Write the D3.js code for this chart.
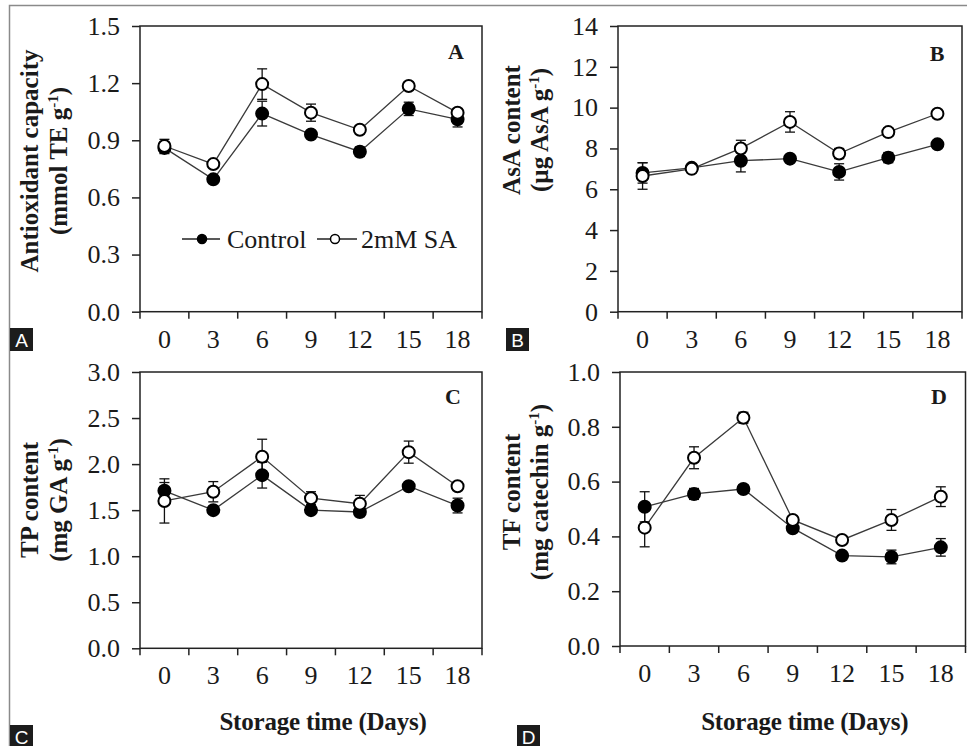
<!DOCTYPE html>
<html>
<head>
<meta charset="utf-8">
<script src="https://cdn.jsdelivr.net/npm/d3@7/dist/d3.min.js"></script>
<style>
  html, body { margin: 0; padding: 0; background: #fff; }
  svg { display: block; }
  text { font-family: "Liberation Serif", "Times New Roman", serif; fill: #1a1a1a; }
</style>
</head>
<body>
<svg id="chart" width="967" height="746"></svg>
<script>
// ---------- data ----------
const days = ["0", "3", "6", "9", "12", "15", "18"];
const seriesNames = ["Control", "2mM SA"];

// Panel A: Antioxidant capacity
const aControl    = [0.86, 0.695, 1.04, 0.93, 0.84, 1.065, 1.01];
const aControlErr = [0.03, 0.015, 0.065, 0.015, 0.025, 0.035, 0.04];
const aSA         = [0.87, 0.775, 1.195, 1.045, 0.955, 1.185, 1.045];
const aSAErr      = [0.035, 0.015, 0.08, 0.045, 0.015, 0.02, 0.02];
const aTicks      = [0, 0.3, 0.6, 0.9, 1.2, 1.5];

// Panel B: AsA content
const bControl    = [6.8, 7.05, 7.4, 7.5, 6.85, 7.55, 8.2];
const bControlErr = [0.5, 0.15, 0.55, 0.15, 0.4, 0.25, 0.15];
const bSA         = [6.65, 7.0, 8.0, 9.3, 7.75, 8.8, 9.7];
const bSAErr      = [0.65, 0.15, 0.4, 0.5, 0.25, 0.2, 0.15];
const bTicks      = [0, 2, 4, 6, 8, 10, 12, 14];

// Panel C: TP content
const cControl    = [1.71, 1.5, 1.88, 1.5, 1.48, 1.76, 1.55];
const cControlErr = [0.09, 0.03, 0.14, 0.03, 0.05, 0.03, 0.08];
const cSA         = [1.6, 1.7, 2.08, 1.63, 1.57, 2.13, 1.76];
const cSAErr      = [0.24, 0.11, 0.19, 0.07, 0.09, 0.12, 0.04];
const cTicks      = [0, 0.5, 1.0, 1.5, 2.0, 2.5, 3.0];

// Panel D: TF content
const dControl    = [0.508, 0.555, 0.573, 0.43, 0.33, 0.325, 0.36];
const dControlErr = [0.055, 0.02, 0.015, 0.01, 0.015, 0.025, 0.032];
const dSA         = [0.432, 0.687, 0.833, 0.46, 0.387, 0.46, 0.545];
const dSAErr      = [0.07, 0.04, 0.02, 0.01, 0.01, 0.038, 0.036];
const dTicks      = [0, 0.2, 0.4, 0.6, 0.8, 1.0];

const xTitle = "Storage time (Days)";

// ---------- layout ----------
const svg = d3.select("#chart");

// outer frame (top & left visible)
svg.append("path")
  .attr("d", "M9.5,746 L9.5,5.5 L967,5.5")
  .attr("fill", "none").attr("stroke", "#8a8a8a").attr("stroke-width", 1.5);

const panels = [
  { letter: "A", box: [140, 482, 26, 311.7], max: 1.5, ticks: aTicks, fmt: d3.format(".1f"),
    ctrl: aControl, ctrlErr: aControlErr, sa: aSA, saErr: aSAErr,
    title1: "Antioxidant capacity", title2: ["(mmol TE g", ")"], tx1: 38, tx2: 67, ty: 161,
    letterPos: [456, 59], corner: [10, 328], legend: true, xTitle: false },
  { letter: "B", box: [618, 962, 26, 311.7], max: 14, ticks: bTicks, fmt: d3.format("d"),
    ctrl: bControl, ctrlErr: bControlErr, sa: bSA, saErr: bSAErr,
    title1: "AsA content", title2: ["(µg AsA g", ")"], tx1: 520, tx2: 548, ty: 130,
    letterPos: [937, 61], corner: [506, 328], legend: false, xTitle: false },
  { letter: "C", box: [140, 482, 372, 648.3], max: 3, ticks: cTicks, fmt: d3.format(".1f"),
    ctrl: cControl, ctrlErr: cControlErr, sa: cSA, saErr: cSAErr,
    title1: "TP content", title2: ["(mg GA g", ")"], tx1: 38, tx2: 67, ty: 500,
    letterPos: [453, 404], corner: [10, 725], legend: false, xTitle: true },
  { letter: "D", box: [620, 965.5, 372, 646], max: 1, ticks: dTicks, fmt: d3.format(".1f"),
    ctrl: dControl, ctrlErr: dControlErr, sa: dSA, saErr: dSAErr,
    title1: "TF content", title2: ["(mg catechin g", ")"], tx1: 520, tx2: 548, ty: 492,
    letterPos: [939, 404], corner: [517, 725], legend: false, xTitle: true }
];

panels.forEach(p => {
  const [L, R, T, B] = p.box;
  const x = d3.scaleBand().domain(days).range([L, R]).paddingInner(0).paddingOuter(0);
  const y = d3.scaleLinear().domain([0, p.max]).range([B, T]);
  const g = svg.append("g");

  // plot box
  g.append("rect").attr("x", L).attr("y", T).attr("width", R - L).attr("height", B - T)
    .attr("fill", "none").attr("stroke", "#222").attr("stroke-width", 1.5);

  // y axis
  const ya = g.append("g").attr("transform", `translate(${L},0)`)
    .call(d3.axisLeft(y).tickValues(p.ticks).tickFormat(p.fmt).tickSize(8).tickPadding(12));
  ya.select(".domain").remove();
  ya.selectAll(".tick line").attr("stroke", "#222").attr("stroke-width", 1.5);
  ya.selectAll(".tick text").attr("font-size", 26).attr("font-family", "Liberation Serif, serif")
    .attr("fill", "#1a1a1a");

  // x axis labels (centered in bands)
  const xa = g.append("g").attr("transform", `translate(0,${B})`)
    .call(d3.axisBottom(x).tickSize(0).tickPadding(17.5));
  xa.select(".domain").remove();
  xa.selectAll(".tick text").attr("font-size", 26).attr("font-family", "Liberation Serif, serif")
    .attr("fill", "#1a1a1a");

  // x boundary ticks
  const bounds = days.map(d => x(d)).concat([x(days[days.length - 1]) + x.bandwidth()]);
  g.selectAll(".bt").data(bounds).enter().append("line")
    .attr("x1", d => d).attr("x2", d => d).attr("y1", B).attr("y2", B + 7)
    .attr("stroke", "#222").attr("stroke-width", 1.5);

  const cx = d => x(d) + x.bandwidth() / 2;
  const line = d3.line().x((v, i) => cx(days[i])).y(v => y(v));

  const series = [
    { vals: p.ctrl, errs: p.ctrlErr, fill: "#000" },
    { vals: p.sa, errs: p.saErr, fill: "#fff" }
  ];

  series.forEach(s => {
    g.append("path").attr("d", line(s.vals)).attr("fill", "none")
      .attr("stroke", "#3a3a3a").attr("stroke-width", 1.3);
  });
  series.forEach(s => {
    const eg = g.append("g");
    s.vals.forEach((v, i) => {
      const xc = cx(days[i]);
      const y1 = y(v + s.errs[i]), y0 = y(v - s.errs[i]);
      eg.append("line").attr("x1", xc).attr("x2", xc).attr("y1", y1).attr("y2", y0)
        .attr("stroke", "#111").attr("stroke-width", 1.3);
      [y1, y0].forEach(yy => eg.append("line").attr("x1", xc - 5).attr("x2", xc + 5)
        .attr("y1", yy).attr("y2", yy).attr("stroke", "#111").attr("stroke-width", 1.3));
    });
  });
  series.forEach(s => {
    g.selectAll(null).data(s.vals).enter().append("circle")
      .attr("cx", (v, i) => cx(days[i])).attr("cy", v => y(v)).attr("r", 6)
      .attr("fill", s.fill).attr("stroke", "#000").attr("stroke-width", 2);
  });

  // panel letter
  g.append("text").attr("x", p.letterPos[0]).attr("y", p.letterPos[1])
    .attr("text-anchor", "middle").attr("font-size", 22).attr("font-weight", "bold")
    .text(p.letter);

  // y titles
  g.append("text").attr("transform", `translate(${p.tx1},${p.ty}) rotate(-90)`)
    .attr("text-anchor", "middle").attr("font-size", 25).attr("font-weight", "bold")
    .text(p.title1);
  const t2 = g.append("text").attr("transform", `translate(${p.tx2},${p.ty}) rotate(-90)`)
    .attr("text-anchor", "middle").attr("font-size", 25).attr("font-weight", "bold");
  t2.append("tspan").text(p.title2[0]);
  t2.append("tspan").attr("dy", -9).attr("font-size", 15).text("-1");
  t2.append("tspan").attr("dy", 9).text(p.title2[1]);

  // x title
  if (p.xTitle) {
    g.append("text").attr("x", (L + R) / 2 + 12).attr("y", 730)
      .attr("text-anchor", "middle").attr("font-size", 25).attr("font-weight", "bold")
      .attr("letter-spacing", -0.2)
      .text(xTitle);
  }

  // corner label
  g.append("rect").attr("x", p.corner[0]).attr("y", p.corner[1]).attr("width", 23).attr("height", 23)
    .attr("fill", "#1c1c1c");
  g.append("text").attr("x", p.corner[0] + 11.5).attr("y", p.corner[1] + 18.5)
    .attr("text-anchor", "middle").attr("font-size", 19)
    .style("font-family", "'Liberation Sans', Arial, sans-serif").style("fill", "#fff")
    .text(p.letter);

  // legend
  if (p.legend) {
    const ly = 239;
    const items = [
      { x0: 182, x1: 220, mx: 202, tx: 227, fill: "#000", name: seriesNames[0] },
      { x0: 317, x1: 357, mx: 335, tx: 361, fill: "#fff", name: seriesNames[1] }
    ];
    items.forEach(it => {
      g.append("line").attr("x1", it.x0).attr("x2", it.x1).attr("y1", ly).attr("y2", ly)
        .attr("stroke", "#222").attr("stroke-width", 1.3);
      g.append("circle").attr("cx", it.mx).attr("cy", ly).attr("r", 4.5)
        .attr("fill", it.fill).attr("stroke", "#000").attr("stroke-width", 1.5);
      g.append("text").attr("x", it.tx).attr("y", ly + 9).attr("font-size", 26).text(it.name);
    });
  }
});
</script>
</body>
</html>
